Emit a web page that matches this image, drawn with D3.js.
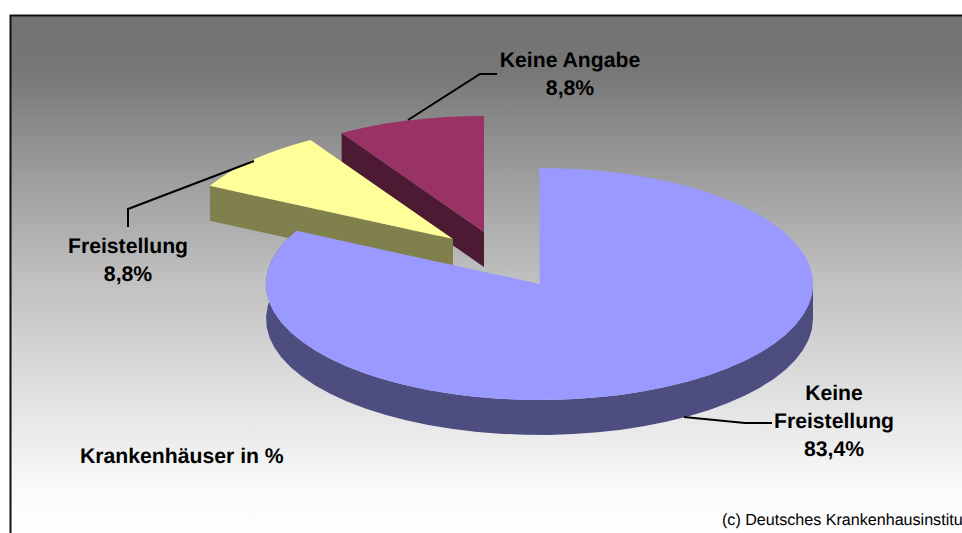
<!DOCTYPE html>
<html><head><meta charset="utf-8">
<script src="https://cdnjs.cloudflare.com/ajax/libs/d3/7.8.5/d3.min.js"></script>
<style>html,body{margin:0;padding:0;background:#fff;overflow:hidden}svg{display:block}text{font-family:"Liberation Sans",Arial,sans-serif;fill:#000;text-rendering:geometricPrecision}</style>
</head><body>
<svg id="c" width="962" height="533"></svg>
<script>
const categories = ["Keine Freistellung","Freistellung","Keine Angabe"];
const values = [83.4,8.8,8.8];
const valueLabels = ["83,4%","8,8%","8,8%"];
const colorsTop = ["#9999ff","#ffff99","#993366"];
const colorsSide = ["#4d4d80","#80804d","#4d1a33"];

const svg = d3.select("#c");
const W=962,H=533, L=10.5,T=15.5;
const defs = svg.append("defs");
const g = defs.append("linearGradient").attr("id","bg").attr("x1",0).attr("x2",0).attr("y1",0).attr("y2",1);
[[0,"#737373"],[0.1,"#767676"],[0.3,"#9c9c9c"],[0.5,"#c0c0c0"],[0.7,"#dedede"],[0.9,"#fafafa"],[1,"#ffffff"]]
  .forEach(s=>g.append("stop").attr("offset",s[0]).attr("stop-color",s[1]));
svg.append("rect").attr("x",L).attr("y",T).attr("width",W+10-L).attr("height",H+10-T)
  .attr("fill","url(#bg)").attr("stroke","#111").attr("stroke-width",2);

const rx=273.5, ry=116, depth=35, cx=539.5, cy=284;
const explode=[[0,0],[-86.5,-45],[-55.5,-52]];
const arcs=d3.pie().sort(null).value(d=>d)(values);
const arcGen=d3.arc().innerRadius(0).outerRadius(1);
const px=(a,i)=>cx+explode[i][0]+rx*Math.sin(a);
const py=(a,i)=>cy+explode[i][1]-ry*Math.cos(a);
const line=d3.line();

function wall(a0,a1,i){
  const upper=d3.range(0,41).map(k=>{const a=a0+(a1-a0)*k/40;return [px(a,i),py(a,i)];});
  const lower=upper.slice().reverse().map(p=>[p[0],p[1]+depth]);
  return line(upper.concat(lower))+"Z";
}
function radial(a,i){
  const tx=cx+explode[i][0], ty=cy+explode[i][1];
  const x=px(a,i), y=py(a,i);
  return line([[x,y],[tx,ty],[tx,ty+depth],[x,y+depth]])+"Z";
}
const slices=svg.append("g");
function drawTop(i){
  slices.append("path").attr("d",arcGen(arcs[i]))
    .attr("transform",`translate(${cx+explode[i][0]},${cy+explode[i][1]}) scale(${rx},${ry})`)
    .attr("fill",colorsTop[i]);
}
slices.append("path").attr("d",radial(arcs[2].startAngle,2)).attr("fill",colorsSide[2]);
drawTop(2);
slices.append("path").attr("d",radial(arcs[1].startAngle,1)).attr("fill",colorsSide[1]);
drawTop(1);
slices.append("path").attr("d",wall(Math.PI/2,arcs[0].endAngle,0)).attr("fill",colorsSide[0]);
drawTop(0);

const leaders=[
 [[684,417],[745,423],[772,423]],
 [[128,227],[128,209],[254,161]],
 [[408,120],[480,74],[497,74]]
];
svg.append("g").selectAll("path").data(leaders).join("path")
  .attr("d",d=>line(d)).attr("fill","none").attr("stroke","#000").attr("stroke-width",2);

const fs=21.2;
const labels=[
 {x:834,ys:[400,428,456],lines:["Keine","Freistellung",valueLabels[0]]},
 {x:128,ys:[253,281],lines:[categories[1],valueLabels[1]]},
 {x:570,ys:[67,95],lines:[categories[2],valueLabels[2]]}
];
labels.forEach(l=>l.lines.forEach((t,k)=>svg.append("text").attr("x",l.x).attr("y",l.ys[k])
  .attr("text-anchor","middle").attr("font-size",fs).attr("font-weight","bold").text(t)));
svg.append("text").attr("x",80).attr("y",463).attr("font-size",fs).attr("font-weight","bold").text("Krankenhäuser in %");
svg.append("text").attr("x",722).attr("y",525).attr("font-size",16.1).text("(c) Deutsches Krankenhausinstitut");
</script>
</body></html>
